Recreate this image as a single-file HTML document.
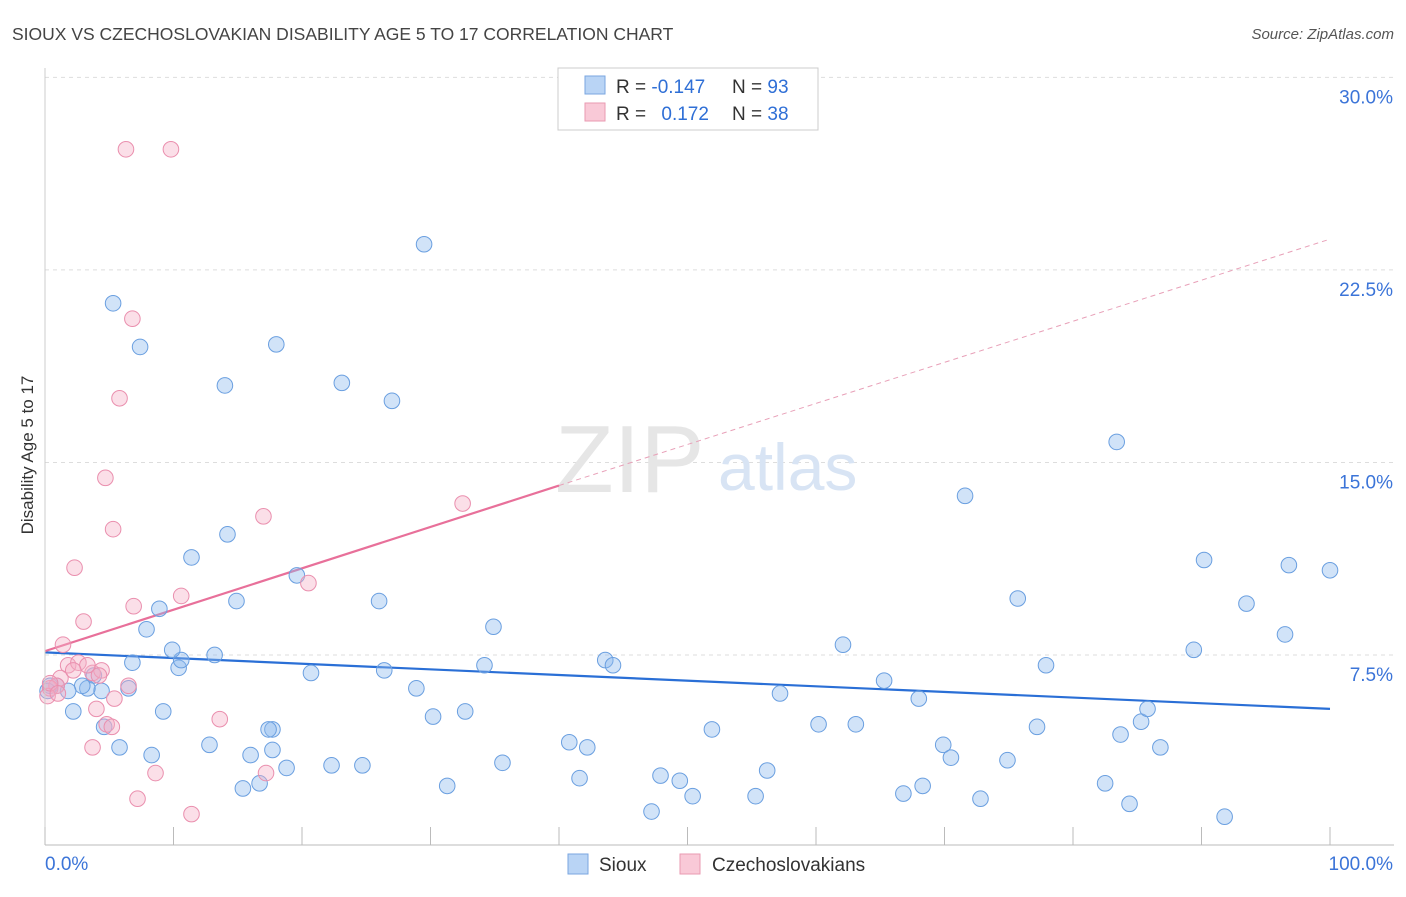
<!DOCTYPE html>
<html><head><meta charset="utf-8"><style>
body{margin:0;background:#fff;font-family:"Liberation Sans",sans-serif;}
svg text{font-family:"Liberation Sans",sans-serif;}
</style></head><body>
<svg width="1406" height="892">
<text x="12" y="40" font-size="17.5" fill="#444">SIOUX VS CZECHOSLOVAKIAN DISABILITY AGE 5 TO 17 CORRELATION CHART</text>
<text x="1394" y="39" font-size="15" fill="#555" text-anchor="end" font-style="italic">Source: ZipAtlas.com</text>
<text transform="translate(33,455) rotate(-90)" font-size="17" fill="#333" text-anchor="middle">Disability Age 5 to 17</text>
<g id="grid"></g>
<g>
<text x="555" y="492" font-size="96" fill="#e6e6e6" font-family="Liberation Serif,serif">ZIP</text>
<text x="718" y="490" font-size="66" fill="#d8e4f4">atlas</text>
</g>
<g id="trend"></g>
<g id="pts"></g>
<g id="ticks"></g>
<g>
<rect x="558" y="68" width="260" height="62" fill="#fff" stroke="#ccc"/>
<rect x="585" y="76" width="20" height="18" fill="#b9d4f5" stroke="#7aa6e0"/>
<rect x="585" y="103" width="20" height="18" fill="#f9c9d7" stroke="#e99ab2"/>
<text x="616" y="93" font-size="19" fill="#333">R = <tspan fill="#2f6fd6">-0.147</tspan></text>
<text x="732" y="93" font-size="19" fill="#333">N = <tspan fill="#2f6fd6">93</tspan></text>
<text x="616" y="120" font-size="19" fill="#333">R = <tspan fill="#2f6fd6" dx="10">0.172</tspan></text>
<text x="732" y="120" font-size="19" fill="#333">N = <tspan fill="#2f6fd6">38</tspan></text>
</g>
<g>
<rect x="568" y="854" width="20" height="20" fill="#b9d4f5" stroke="#7aa6e0"/>
<text x="599" y="871" font-size="19" fill="#333">Sioux</text>
<rect x="680" y="854" width="20" height="20" fill="#f9c9d7" stroke="#e99ab2"/>
<text x="712" y="871" font-size="19" fill="#333">Czechoslovakians</text>
</g>
</svg>
<script>
const yTicks=[7.5,15,22.5,30];
const yTickLabels=["7.5%","15.0%","22.5%","30.0%"];
const xTicks=[0,10,20,30,40,50,60,70,80,90,100];
const siouxX=[5.3,7.4,14,18,23.1,27,29.5,83.4,71.6,90.2,96.8,100,93.5,75.7,96.5,89.4,62.1,77.9,65.3,68,77.2,85.3,85.8,83.7,86.8,69.9,70.5,74.9,82.5,84.4,91.8,66.8,68.3,72.8,60.2,63.1,57.2,51.9,56.2,55.3,50.4,49.4,47.9,47.2,41.6,42.2,40.8,43.6,44.2,34.9,34.2,35.6,31.3,32.7,30.2,28.9,26.4,26,24.7,22.3,20.7,19.6,17.7,17.7,17.4,18.8,16.7,16,15.4,14.9,14.2,13.2,12.8,11.4,10.4,10.6,9.9,8.9,9.2,7.9,8.3,6.8,6.5,5.8,4.6,4.4,3.8,3.3,2.9,2.2,1.8,0.9,0.4,0.2];
const siouxY=[21.2,19.5,18,19.6,18.1,17.4,23.5,15.8,13.7,11.2,11,10.8,9.5,9.7,8.3,7.7,7.9,7.1,6.5,5.8,4.7,4.9,5.4,4.4,3.9,4,3.5,3.4,2.5,1.7,1.2,2.1,2.4,1.9,4.8,4.8,6,4.6,3.0,2.0,2.0,2.6,2.8,1.4,2.7,3.9,4.1,7.3,7.1,8.6,7.1,3.3,2.4,5.3,5.1,6.2,6.9,9.6,3.2,3.2,6.8,10.6,4.6,3.8,4.6,3.1,2.5,3.6,2.3,9.6,12.2,7.5,4.0,11.3,7.0,7.3,7.7,9.3,5.3,8.5,3.6,7.2,6.2,3.9,4.7,6.1,6.7,6.2,6.3,5.3,6.1,6.3,6.3,6.1];
const czechX=[6.3,9.8,6.8,5.8,4.7,5.3,17,20.5,32.5,2.3,3,6.9,10.6,1.4,1.8,2.6,3.7,4.4,3.3,4.2,1.2,0.9,0.4,0.2,5.4,6.5,4.0,4.8,13.6,3.7,8.6,17.2,7.2,11.4,2.2,0.4,1,5.2];
const czechY=[27.2,27.2,20.6,17.5,14.4,12.4,12.9,10.3,13.4,10.9,8.8,9.4,9.8,7.9,7.1,7.2,6.8,6.9,7.1,6.7,6.6,6.3,6.2,5.9,5.8,6.3,5.4,4.8,5,3.9,2.9,2.9,1.9,1.3,6.9,6.4,6.0,4.7];
const NS="http://www.w3.org/2000/svg";
const X0=45,X1=1330,Y0=847.5,YS=25.67;
const xs=v=>X0+(X1-X0)*v/100, ys=v=>Y0-v*YS;
function mk(t,a,p){const e=document.createElementNS(NS,t);for(const k in a)e.setAttribute(k,a[k]);p.appendChild(e);return e;}
const grid=document.getElementById('grid');
yTicks.forEach((v,i)=>{
 const l=mk('line',{x1:45,x2:1394,y1:ys(v),y2:ys(v),stroke:'#ddd','stroke-dasharray':'4,4'},grid);
 
 
 const t=mk('text',{x:1393,y:ys(v)+26,'font-size':19,fill:'#3b74d8','text-anchor':'end'},grid);
 t.textContent=yTickLabels[i];
 
 
});
const ticks=document.getElementById('ticks');
const ax=mk('line',{x1:45,x2:1394,y1:845,y2:845,stroke:'#bbb'},ticks);


const yax=mk('line',{x1:45,x2:45,y1:68,y2:845,stroke:'#ccc'},ticks);


xTicks.forEach(v=>{
 const l=mk('line',{x1:xs(v),x2:xs(v),y1:827,y2:845,stroke:'#bbb'},ticks);
 
 
});
const t0=mk('text',{x:45,y:870,'font-size':19,fill:'#3b74d8'},ticks);t0.textContent='0.0%';


const t1=mk('text',{x:1393,y:870,'font-size':19,fill:'#3b74d8','text-anchor':'end'},ticks);t1.textContent='100.0%';


const pts=document.getElementById('pts');
siouxX.forEach((x,i)=>{
 const c=mk('circle',{cx:xs(x),cy:ys(siouxY[i]),r:7.8,fill:'rgba(140,184,238,0.4)',stroke:'#6a9fe0','stroke-width':1},pts);
 
 
});
czechX.forEach((x,i)=>{
 const c=mk('circle',{cx:xs(x),cy:ys(czechY[i]),r:7.8,fill:'rgba(246,176,198,0.4)',stroke:'#ea8fae','stroke-width':1},pts);
 
 
});
const trend=document.getElementById('trend');
const b=mk('line',{x1:xs(0),y1:ys(7.6),x2:xs(100),y2:ys(5.4),stroke:'#2a6fd6','stroke-width':2.2},trend);


const p1=mk('line',{x1:xs(0),y1:ys(7.65),x2:xs(40),y2:ys(14.1),stroke:'#e8709a','stroke-width':2.2},trend);


const p2=mk('line',{x1:xs(40),y1:ys(14.1),x2:xs(100),y2:ys(23.7),stroke:'#e8a0b8','stroke-width':1,'stroke-dasharray':'5,4'},trend);


</script>
</body></html>
